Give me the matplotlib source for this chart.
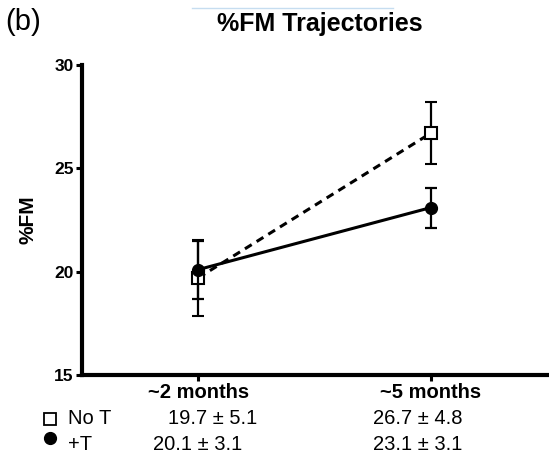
import matplotlib
matplotlib.use("Agg")
import matplotlib.pyplot as plt
from matplotlib.lines import Line2D

plt.rcParams['font.family'] = ['Liberation Sans', 'DejaVu Sans']

# data
timepoints = ['~2 months', '~5 months']
noT_mean = [19.7, 26.7]
noT_sd = [5.1, 4.8]
noT_err = [1.84, 1.5]     # plotted error bars
T_mean = [20.1, 23.1]
T_sd = [3.1, 3.1]
T_err = [1.4, 0.97]
group_names = ['No T', '+T']

W, H = 549, 458
fig = plt.figure(figsize=(W / 100, H / 100), dpi=100)
ax = fig.add_axes([82 / W, 1 - 375 / H, (547 - 82) / W, (375 - 65) / H])

x = list(range(len(timepoints)))

ax.errorbar(x, noT_mean, yerr=noT_err, color='black', lw=2.2, ls=(0, (2.6, 1.9)),
            marker='s', ms=9, mfc='white', mec='black', mew=1.5,
            elinewidth=1.6, capsize=4, capthick=1.6, zorder=3)
ax.errorbar(x, T_mean, yerr=T_err, color='black', lw=2.2, ls='-',
            marker='o', ms=8.5, mfc='black', mec='black',
            elinewidth=1.6, capsize=4, capthick=1.6, zorder=4)

ax.set_xlim(-0.5, 1.5)
ax.set_ylim(15, 30)
ax.set_yticks([15, 20, 25, 30])
ax.set_xticks(x)
ax.set_xticklabels(timepoints, fontsize=14.5, fontweight='bold')
for lab in ax.get_yticklabels():
    lab.set_fontsize(12.5)
    lab.set_fontweight('bold')
ax.tick_params(axis='both', direction='out', length=4, width=2.2, pad=2)
ax.spines['top'].set_visible(False)
ax.spines['right'].set_visible(False)
ax.spines['left'].set_linewidth(3)
ax.spines['bottom'].set_linewidth(3)
ax.set_ylabel('%FM', fontsize=15, fontweight='bold', labelpad=12)

fig.text(320 / W, 1 - 24 / H, '%FM Trajectories', fontsize=18, fontweight='bold',
         ha='center', va='center')
fig.text(5 / W, 1 - 22 / H, '(b)', fontsize=21, ha='left', va='center')

# faint line at the top of the original picture
fig.add_artist(Line2D([192 / W, 393 / W], [1 - 8 / H, 1 - 8 / H],
                      color='#c6ddf0', lw=1, transform=fig.transFigure))

# summary table under the axis
row_y = [419, 444]
fig.add_artist(Line2D([50 / W], [1 - row_y[0] / H], marker='s', ms=8, mfc='white',
                      mec='black', mew=1.3, transform=fig.transFigure))
fig.add_artist(Line2D([50 / W], [1 - 438 / H], marker='o', ms=8.5, mfc='black',
                      mec='black', transform=fig.transFigure))
fig.text(68 / W, 1 - row_y[0] / H, group_names[0], fontsize=14.5, va='center')
fig.text(68 / W, 1 - row_y[1] / H, group_names[1], fontsize=14.5, va='center')

col_x = [[168, 373], [153, 373]]
for r, (means, sds) in enumerate([(noT_mean, noT_sd), (T_mean, T_sd)]):
    for c in range(len(timepoints)):
        fig.text(col_x[r][c] / W, 1 - row_y[r] / H, f'{means[c]:.1f} \u00b1 {sds[c]:.1f}',
                 fontsize=14.5, va='center', ha='left')

fig.savefig('out.png', dpi=100)
